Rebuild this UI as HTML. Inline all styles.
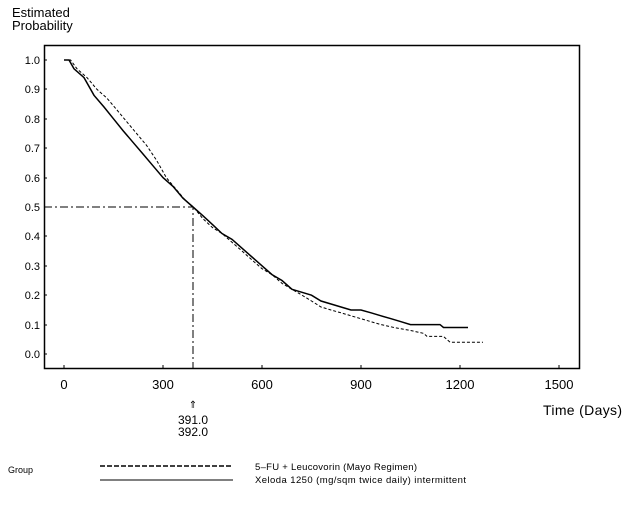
<!DOCTYPE html>
<html><head><style>
body{margin:0;background:#fff;}
svg{display:block;font-family:"Liberation Sans",sans-serif;}
</style></head><body>
<svg width="636" height="505" xmlns="http://www.w3.org/2000/svg">
<rect width="636" height="505" fill="#fff"/>
<text x="12" y="17" font-size="13">Estimated</text>
<text x="12" y="30" font-size="13">Probability</text>
<rect x="44.5" y="45.5" width="535" height="323" fill="none" stroke="#000" stroke-width="1.5"/>
<g font-size="11" text-anchor="end">
<text x="40" y="64">1.0</text><text x="40" y="93">0.9</text><text x="40" y="123">0.8</text>
<text x="40" y="152">0.7</text><text x="40" y="182">0.6</text><text x="40" y="211">0.5</text>
<text x="40" y="240">0.4</text><text x="40" y="270">0.3</text><text x="40" y="299">0.2</text>
<text x="40" y="329">0.1</text><text x="40" y="358">0.0</text>
</g>
<g stroke="#000" stroke-width="1">
<line x1="44" y1="60" x2="47" y2="60"/><line x1="44" y1="89" x2="47" y2="89"/><line x1="44" y1="119" x2="47" y2="119"/>
<line x1="44" y1="148" x2="47" y2="148"/><line x1="44" y1="178" x2="47" y2="178"/><line x1="44" y1="207" x2="47" y2="207"/>
<line x1="44" y1="236" x2="47" y2="236"/><line x1="44" y1="266" x2="47" y2="266"/><line x1="44" y1="295" x2="47" y2="295"/>
<line x1="44" y1="325" x2="47" y2="325"/><line x1="44" y1="354" x2="47" y2="354"/>
<line x1="64" y1="368" x2="64" y2="365"/><line x1="163" y1="368" x2="163" y2="365"/><line x1="262" y1="368" x2="262" y2="365"/>
<line x1="361" y1="368" x2="361" y2="365"/><line x1="460" y1="368" x2="460" y2="365"/><line x1="559" y1="368" x2="559" y2="365"/>
</g>
<g font-size="13" text-anchor="middle">
<text x="64" y="389">0</text><text x="163" y="389">300</text><text x="262" y="389">600</text>
<text x="361" y="389">900</text><text x="460" y="389">1200</text><text x="559" y="389">1500</text>
</g>
<text x="543" y="415" font-size="14" textLength="79">Time (Days)</text>
<text x="193" y="408" font-size="10" text-anchor="middle">⇑</text>
<text x="193" y="424" font-size="12" text-anchor="middle">391.0</text>
<text x="193" y="436" font-size="12" text-anchor="middle">392.0</text>
<path d="M44,207 H193 V368" fill="none" stroke="#000" stroke-width="1" stroke-dasharray="8,3,2,3"/>
<polyline fill="none" stroke="#000" stroke-width="1.5" points="64,60 69,60 74,68.8 84,77.6 94,95.3 104,107 113.5,118.8 123,130.6 133,142.3 143,154 153,165.8 163,177.6 173,186.4 183,198.2 193,207 203,215.8 212.5,224.6 222,233.5 232,239.3 242,248.2 252,257 262,265.8 272,274.6 282,280.5 292,289.3 302,292.3 311.5,295.2 321,301 331,304 341,307 351,310 361,310 371,312.8 381,315.8 391,318.7 401,321.7 410.5,324.6 440,324.6 443.5,327.5 468,327.5"/>
<polyline fill="none" stroke="#000" stroke-width="1" stroke-dasharray="3,2" points="64,60 70.6,60 77,68.8 87,77.6 97,89.4 107,98.2 117,110 126.7,121.7 136.6,133.5 146.5,145.3 156.4,160 166.3,177.6 176.2,189.4 186,201.1 193.4,207 203,218.8 212.5,227.6 222,233.5 232,242.3 242,251 252,260 262,268.7 272,274.6 282,283.4 292,289.3 302,295.2 311.5,301 321,307 331,310 341,312.8 351,315.8 361,318.7 371,321.7 381,324.6 394,327.5 410.5,330.5 423.7,333.4 427,336.4 443.5,336.4 450,342.2 483,342.2"/>
<text x="8" y="473" font-size="9">Group</text>
<line x1="100" y1="466" x2="233" y2="466" stroke="#000" stroke-width="1.5" stroke-dasharray="5,2"/>
<line x1="100" y1="480" x2="233" y2="480" stroke="#000" stroke-width="1"/>
<text x="255" y="470" font-size="9.5" textLength="162">5–FU + Leucovorin (Mayo Regimen)</text>
<text x="255" y="483" font-size="9.5" textLength="211">Xeloda 1250 (mg/sqm twice daily) intermittent</text>
</svg>
</body></html>
